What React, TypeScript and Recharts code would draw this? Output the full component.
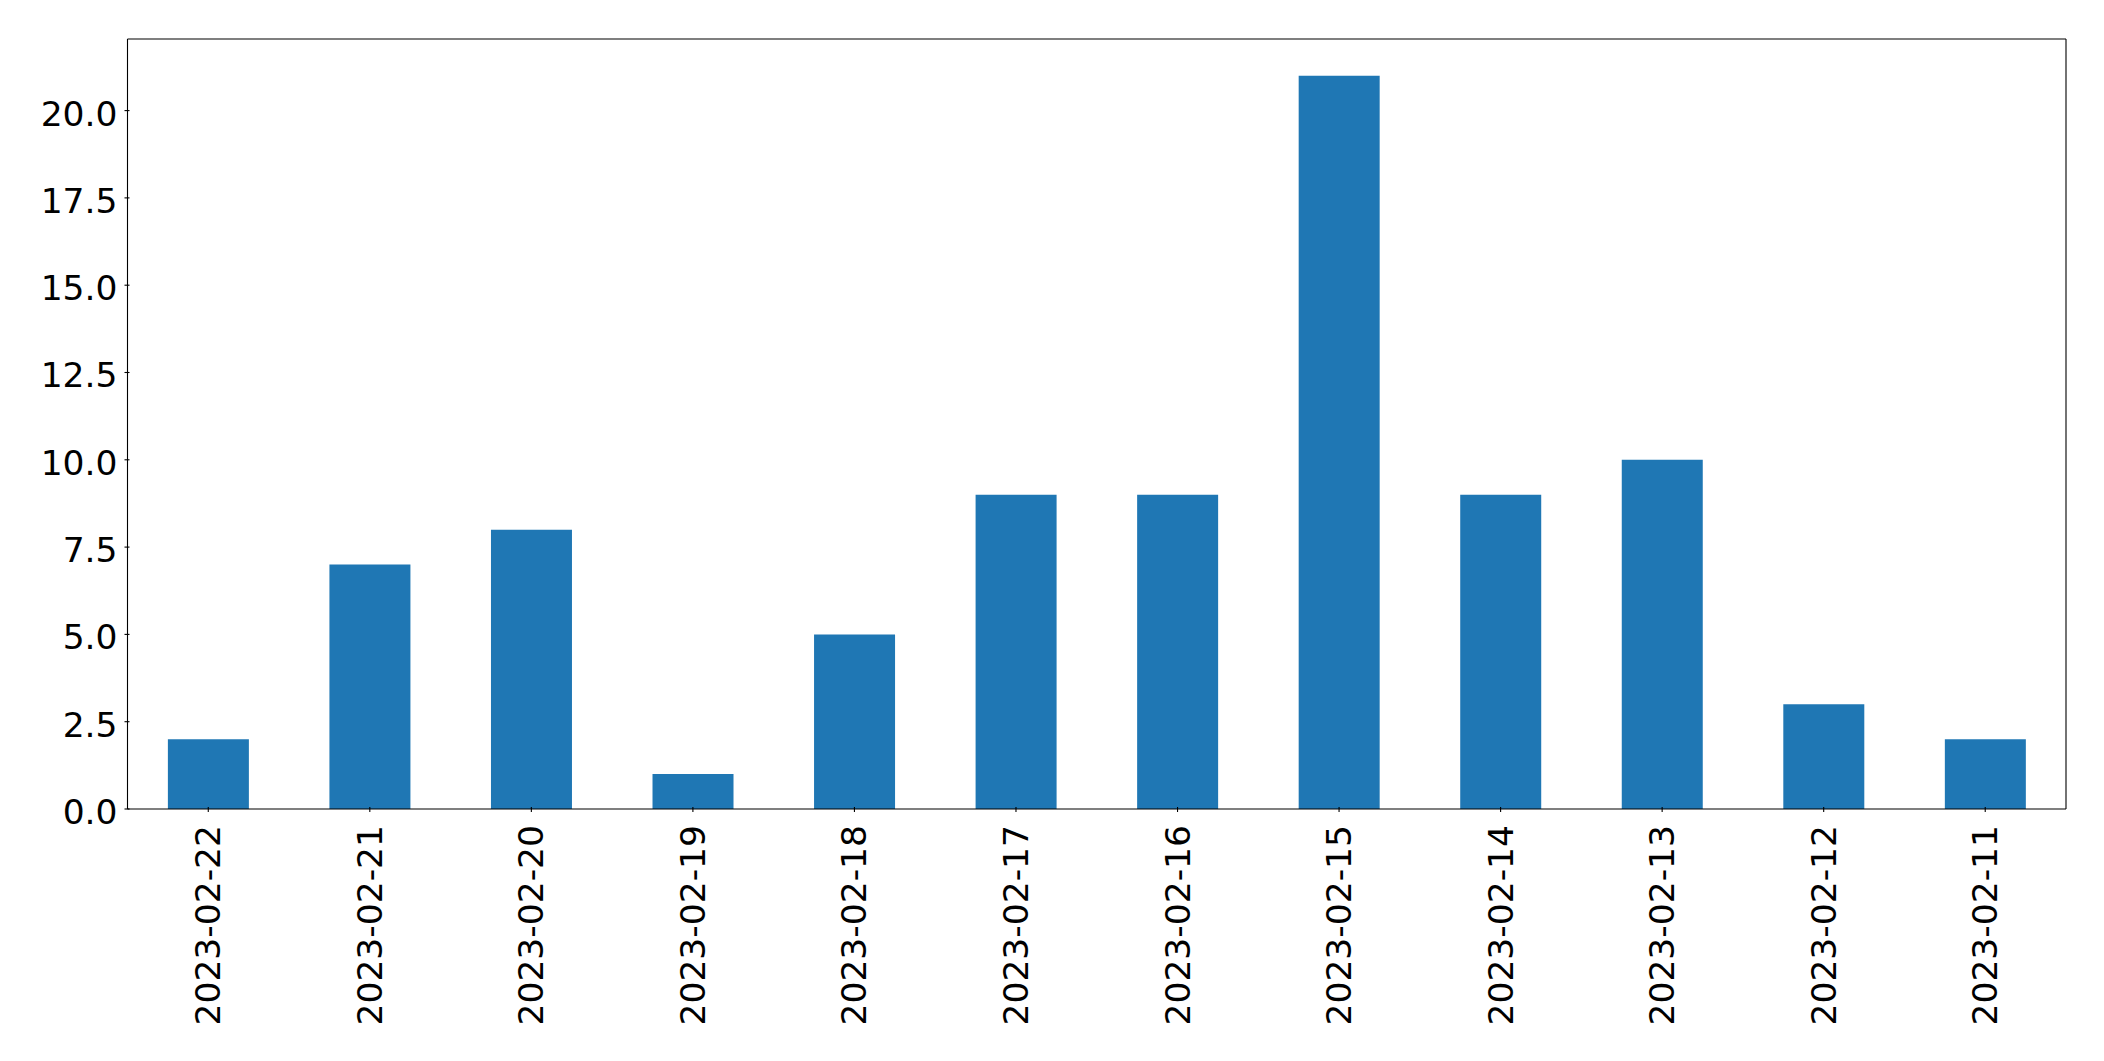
import { BarChart, Bar, XAxis, YAxis } from "recharts";

const dates = [
  "2023-02-22",
  "2023-02-21",
  "2023-02-20",
  "2023-02-19",
  "2023-02-18",
  "2023-02-17",
  "2023-02-16",
  "2023-02-15",
  "2023-02-14",
  "2023-02-13",
  "2023-02-12",
  "2023-02-11",
];
const counts = [2, 7, 8, 1, 5, 9, 9, 21, 9, 10, 3, 2];
const yTicks = [0, 2.5, 5, 7.5, 10, 12.5, 15, 17.5, 20];

const data = dates.map((d, i) => ({ date: d, count: counts[i] }));

const FONT = "DejaVu Sans";

function YTick(props: any) {
  const { x, y, payload } = props;
  return (
    <g>
      <line x1={x + 5} x2={x + 10} y1={y} y2={y} stroke="#000" strokeWidth={1.1} />
      <text x={x - 2} y={y} dy={15} textAnchor="end" fontFamily={FONT} fontSize={34.5} fill="#000">
        {Number(payload.value).toFixed(1)}
      </text>
    </g>
  );
}

function XTick(props: any) {
  const { x, y, payload } = props;
  return (
    <g>
      <line x1={x} x2={x} y1={y - 10} y2={y - 5} stroke="#000" strokeWidth={1.1} />
      <text
        transform={`translate(${x},${y + 8}) rotate(-90)`}
        textAnchor="end"
        dy={12}
        fontFamily={FONT}
        fontSize={34.5}
        fill="#000"
      >
        {payload.value}
      </text>
    </g>
  );
}

export default function App() {
  return (
    <div style={{ position: "absolute", left: 0, top: 0, background: "#fff" }}>
      <BarChart
        width={2104}
        height={1061}
        data={data}
        barCategoryGap="25%"
        margin={{ top: 38, right: 37, left: 7.5, bottom: 12 }}
      >
        <XAxis
          dataKey="date"
          xAxisId="bottom"
          height={240}
          interval={0}
          tickLine={false}
          tick={<XTick />}
          axisLine={{ stroke: "#000", strokeWidth: 1.1 }}
        />
        <XAxis
          dataKey="date"
          xAxisId="top"
          orientation="top"
          height={1}
          tick={false}
          tickLine={false}
          axisLine={{ stroke: "#000", strokeWidth: 1.1 }}
        />
        <YAxis
          yAxisId="left"
          width={120}
          domain={[0, 22.05]}
          ticks={yTicks}
          interval={0}
          tickLine={false}
          tick={<YTick />}
          axisLine={{ stroke: "#000", strokeWidth: 1.1 }}
        />
        <YAxis
          yAxisId="right"
          orientation="right"
          width={1}
          domain={[0, 22.05]}
          tick={false}
          tickLine={false}
          axisLine={{ stroke: "#000", strokeWidth: 1.1 }}
        />
        <Bar
          dataKey="count"
          xAxisId="bottom"
          yAxisId="left"
          fill="#1f77b4"
          isAnimationActive={false}
        />
      </BarChart>
    </div>
  );
}
